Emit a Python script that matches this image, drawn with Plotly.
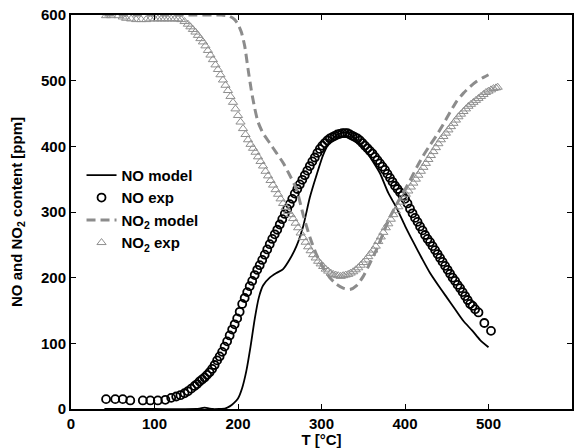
import plotly.graph_objects as go

# NO experimental (circles)
no_exp_T = [42, 53, 62, 71, 86, 95, 104, 113, 120, 126, 131, 136, 140, 144, 148, 151, 154, 157, 160, 163,
            166, 169, 172, 175, 178, 181, 184, 187, 190, 193, 196, 199, 202, 205, 208, 211, 214, 217, 220, 223,
            226, 229, 232, 235, 238, 241, 244, 247, 250, 253, 256, 259, 262, 265, 268, 271, 274, 277, 280, 283,
            286, 289, 292, 295, 298, 301, 304, 307, 310, 313, 316, 319, 322, 325, 328, 331, 334, 337, 340, 343,
            346, 349, 352, 355, 358, 361, 364, 367, 370, 373, 376, 379, 382, 385, 388, 391, 394, 397, 400, 403,
            406, 409, 412, 415, 418, 421, 424, 427, 430, 433, 436, 439, 442, 445, 448, 451, 454, 457, 460, 463,
            466, 469, 472, 475, 478, 481, 484, 488, 495, 503]
no_exp = [15, 15, 15, 13, 13, 13, 13, 14, 17, 19, 21, 24, 27, 31, 35, 38, 42, 45, 48, 52,
          56, 61, 67, 74, 80, 87, 95, 103, 112, 121, 129, 138, 148, 160, 169, 178, 187, 195, 204, 212,
          219, 227, 235, 243, 251, 259, 266, 273, 281, 289, 297, 305, 312, 320, 328, 335, 342, 349, 356, 363,
          370, 377, 383, 390, 396, 401, 405, 409, 412, 414, 416, 418, 419, 420, 420, 420, 418, 416, 414, 412,
          409, 405, 401, 397, 393, 389, 384, 379, 374, 369, 364, 358, 352, 346, 340, 335, 330, 325, 320, 313,
          305, 298, 291, 285, 278, 272, 265, 259, 254, 248, 242, 236, 230, 224, 218, 212, 206, 200, 195, 189,
          184, 178, 172, 166, 160, 157, 152, 147, 131, 119]

# NO model (solid black line)
no_mod_T = [40, 100, 150, 155, 160, 165, 170, 185, 190, 195, 200, 205, 210, 215, 220, 225, 230, 238, 246, 254,
            262, 270, 278, 286, 294, 302, 310, 318, 326, 332, 340, 350, 360, 370, 380, 390, 400, 410, 420, 430,
            440, 450, 460, 466, 470, 480, 486, 490, 500]
no_mod = [0, 0, 0, 1, 2, 1, 0, 1, 4, 9, 16, 32, 58, 95, 137, 170, 188, 200, 207, 213,
          228, 248, 278, 322, 356, 387, 407, 417, 421, 420, 412, 399, 380, 359, 329, 306, 279, 254, 230, 207,
          188, 170, 152, 141, 134, 120, 111, 105, 94]

# NO2 model (dashed grey line)
no2_mod_T = [40, 100, 150, 180, 190, 196, 200, 204, 208, 212, 216, 220, 224, 230, 238, 246, 254, 262, 270, 278,
             286, 294, 302, 310, 318, 326, 334, 342, 350, 358, 366, 374, 382, 390, 398, 406, 414, 422, 430, 438,
             446, 454, 462, 470, 478, 486, 494, 500]
no2_mod = [600, 600, 600, 600, 598, 593, 586, 574, 553, 518, 485, 458, 437, 420, 405, 390, 375, 356, 335, 296,
           262, 235, 215, 200, 190, 184, 182, 188, 202, 222, 243, 268, 292, 312, 330, 348, 368, 386, 402, 417,
           434, 452, 469, 481, 491, 499, 505, 509]

# NO2 experimental (grey triangles)
no2_exp_T = [42, 48, 57, 62, 66, 72, 78, 84, 90, 95, 100, 104, 108, 112, 116, 120, 124, 128, 132, 136,
             140, 143, 146, 149, 152, 155, 158, 161, 164, 167, 170, 173, 176, 179, 182, 185, 188, 191, 194, 197,
             200, 203, 206, 209, 212, 215, 218, 221, 224, 227, 230, 233, 236, 239, 242, 245, 248, 251, 254, 257,
             260, 263, 266, 269, 272, 275, 278, 281, 284, 287, 290, 293, 296, 299, 302, 305, 308, 311, 314, 317,
             320, 323, 326, 329, 332, 335, 338, 341, 344, 347, 350, 353, 356, 359, 362, 365, 368, 371, 374, 377,
             380, 383, 386, 389, 392, 395, 398, 401, 404, 407, 410, 413, 416, 419, 422, 425, 428, 431, 434, 437,
             440, 443, 446, 449, 452, 455, 458, 461, 464, 467, 470, 473, 476, 479, 482, 485, 488, 491, 494, 497,
             500, 503, 506, 509, 511]
no2_exp = [599, 599, 599, 597, 595, 594, 593, 593, 593, 594, 594, 594, 594, 594, 594, 594, 594, 594, 593, 590,
           586, 582, 578, 574, 569, 564, 559, 553, 546, 539, 532, 524, 517, 509, 501, 493, 485, 476, 467, 457,
           447, 437, 427, 418, 410, 403, 397, 391, 384, 377, 370, 362, 355, 348, 341, 334, 327, 320, 313, 307,
           301, 296, 290, 283, 276, 268, 261, 254, 247, 241, 235, 230, 225, 221, 217, 213, 210, 207, 205, 204,
           203, 202, 203, 204, 205, 207, 209, 212, 215, 219, 223, 227, 232, 237, 242, 248, 255, 262, 269, 276,
           282, 289, 296, 302, 308, 315, 321, 327, 332, 338, 344, 350, 356, 362, 368, 374, 380, 386, 392, 398,
           404, 410, 415, 420, 425, 430, 435, 440, 445, 449, 453, 457, 461, 464, 467, 470, 473, 476, 479, 482,
           484, 486, 488, 489, 490]

x_ticks = [0, 100, 200, 300, 400, 500, 600]
y_ticks = [0, 100, 200, 300, 400, 500, 600]

FONT = "Liberation Sans, Arial, sans-serif"

fig = go.Figure()
fig.add_trace(go.Scatter(x=no_mod_T, y=no_mod, mode="lines", name="NO model",
                         line=dict(color="black", width=1.8, shape="spline", smoothing=0.6)))
fig.add_trace(go.Scatter(x=no_exp_T, y=no_exp, mode="markers", name="NO exp",
                         marker=dict(symbol="circle-open", size=8, color="black", line=dict(width=1.8, color="black"))))
fig.add_trace(go.Scatter(x=no2_mod_T, y=no2_mod, mode="lines", name="NO<sub>2</sub> model",
                         line=dict(color="#8c8c8c", width=3, dash="9px,5px", shape="spline", smoothing=0.6)))
fig.add_trace(go.Scatter(x=no2_exp_T, y=no2_exp, mode="markers", name="NO<sub>2</sub> exp",
                         marker=dict(symbol="triangle-up-open", size=8, color="#8f8f8f", line=dict(width=1, color="#8f8f8f"))))

axis_common = dict(range=[0, 600], tickvals=x_ticks, ticks="inside", ticklen=5, tickwidth=1,
                   tickcolor="black", showline=True, linecolor="black", linewidth=2, mirror="ticks",
                   showgrid=False, zeroline=False, automargin=False,
                   tickfont=dict(family=FONT, size=15, color="black", weight="bold"))

fig.update_xaxes(**axis_common,
                 title=dict(text="T [°C]", font=dict(family=FONT, size=15, color="black", weight="bold"), standoff=0))
fig.update_yaxes(**{**axis_common, "tickvals": y_ticks},
                 title=dict(text="NO and NO<sub>2</sub> content [ppm]",
                            font=dict(family=FONT, size=15, color="black", weight="bold"), standoff=15))

fig.update_layout(
    width=584, height=448,
    margin=dict(l=71, r=12, t=15, b=39),
    plot_bgcolor="white", paper_bgcolor="white",
    font=dict(family=FONT, size=15, color="black", weight="bold"),
    legend=dict(x=0.021, y=0.635, xanchor="left", yanchor="top", bgcolor="rgba(0,0,0,0)",
                font=dict(family=FONT, size=15, color="black", weight="bold"),
                tracegroupgap=0, itemwidth=30),
    showlegend=True,
)

fig.write_html("out.html", config={"displayModeBar": False},
               post_script="document.body.style.margin='0px';document.body.style.overflow='hidden';")
